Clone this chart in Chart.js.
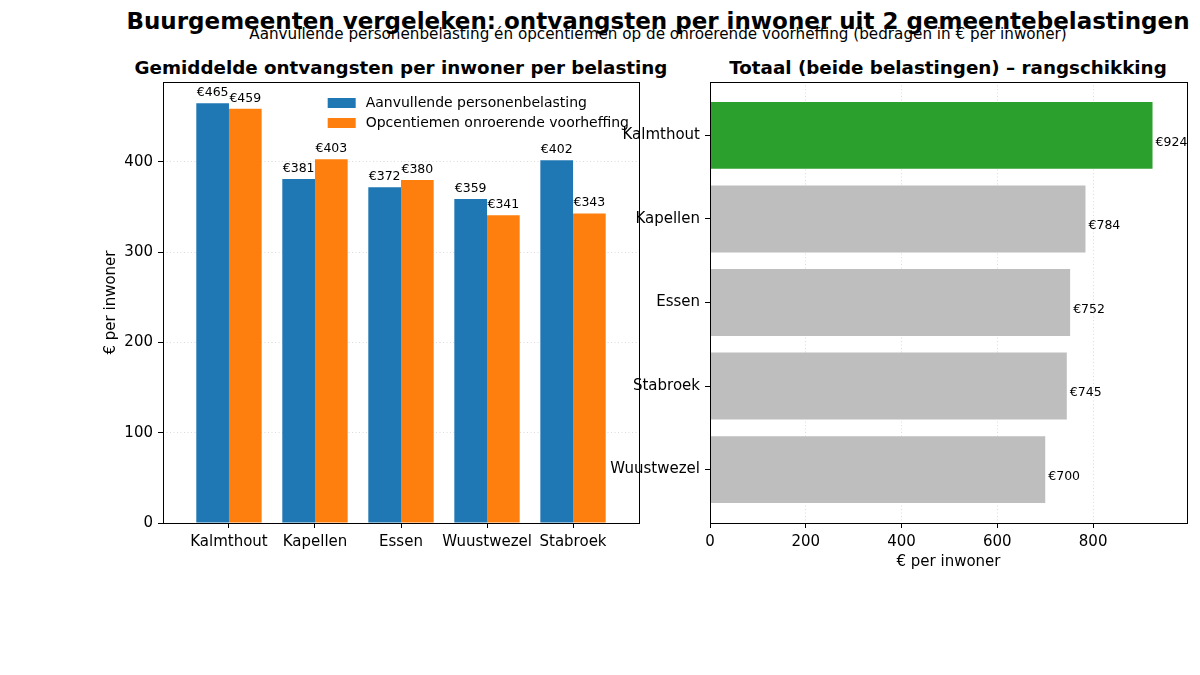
<!DOCTYPE html>
<html>
<head>
<meta charset="utf-8">
<script src="https://cdn.jsdelivr.net/npm/chart.js@4.4.0/dist/chart.umd.min.js"></script>
<style>
  body { margin: 0; background: #fff; font-family: "DejaVu Sans", sans-serif; }
  #wrap { position: relative; width: 1200px; height: 675px; overflow: hidden; background: #fff; }
  .txt { position: absolute; white-space: nowrap; transform: translateX(-50%); line-height: 1; color: #000; }
  canvas { position: absolute; }
</style>
</head>
<body>
<div id="wrap">
  <div class="txt" style="left:658px;top:10px;font-size:23px;font-weight:bold;">Buurgemeenten vergeleken: ontvangsten per inwoner uit 2 gemeentebelastingen</div>
  <div class="txt" style="left:658px;top:27px;font-size:15.2px;">Aanvullende personenbelasting én opcentiemen op de onroerende voorheffing (bedragen in € per inwoner)</div>
  <div class="txt" style="left:401px;top:59px;font-size:18.3px;font-weight:bold;">Gemiddelde ontvangsten per inwoner per belasting</div>
  <div class="txt" style="left:948px;top:59px;font-size:18.3px;font-weight:bold;">Totaal (beide belastingen) – rangschikking</div>
  <canvas id="leftChart" width="650" height="520" style="left:0;top:60px;"></canvas>
  <canvas id="rightChart" width="610" height="520" style="left:590px;top:60px;"></canvas>
</div>
<script>
// data
const municipalities = ['Kalmthout', 'Kapellen', 'Essen', 'Wuustwezel', 'Stabroek']
const personenbelasting = [465, 381, 372, 359, 402]
const opcentiemen = [459, 403, 380, 341, 343]

const rankedNames = ['Kalmthout', 'Kapellen', 'Essen', 'Stabroek', 'Wuustwezel']
const rankedTotals = [924, 784, 752, 745, 700]

const seriesLabels = ['Aanvullende personenbelasting', 'Opcentiemen onroerende voorheffing']
const leftYTicks = [0, 100, 200, 300, 400]
const rightXTicks = [0, 200, 400, 600, 800]

Chart.defaults.font.family = 'DejaVu Sans'
Chart.defaults.color = '#000'

const frame = {
  id: 'frame',
  afterDraw(chart) {
    const { ctx, chartArea: a } = chart
    ctx.save()
    ctx.strokeStyle = '#000'
    ctx.lineWidth = 1
    ctx.strokeRect(Math.round(a.left) + 0.5, Math.round(a.top) + 0.5, Math.round(a.right - a.left), Math.round(a.bottom - a.top))
    ctx.restore()
  }
}

const columnLabels = {
  id: 'columnLabels',
  afterDatasetsDraw(chart) {
    const ctx = chart.ctx
    ctx.save()
    ctx.font = '12.5px "DejaVu Sans"'
    ctx.fillStyle = '#000'
    ctx.textAlign = 'center'
    ctx.textBaseline = 'alphabetic'
    chart.data.datasets.forEach((ds, di) => {
      chart.getDatasetMeta(di).data.forEach((bar, i) => {
        ctx.fillText('€' + ds.data[i].y, bar.x, bar.y - 7)
      })
    })
    ctx.restore()
  }
}

const insideLegend = {
  id: 'insideLegend',
  afterDatasetsDraw(chart) {
    const { ctx, chartArea: a } = chart
    ctx.save()
    ctx.font = '14px "DejaVu Sans"'
    const widest = Math.max(...chart.data.datasets.map(ds => ctx.measureText(ds.label).width))
    const textX = a.right - 10 - widest
    chart.data.datasets.forEach((ds, i) => {
      const cy = a.top + 21 + i * 20
      ctx.fillStyle = ds.backgroundColor
      ctx.fillRect(textX - 38, cy - 5, 28, 10)
      ctx.fillStyle = '#000'
      ctx.textAlign = 'left'
      ctx.textBaseline = 'middle'
      ctx.fillText(ds.label, textX, cy)
    })
    ctx.restore()
  }
}

const totalLabels = {
  id: 'totalLabels',
  afterDatasetsDraw(chart) {
    const ctx = chart.ctx
    ctx.save()
    ctx.font = '12.5px "DejaVu Sans"'
    ctx.fillStyle = '#000'
    ctx.textAlign = 'left'
    ctx.textBaseline = 'middle'
    chart.getDatasetMeta(0).data.forEach((bar, i) => {
      ctx.fillText('€' + rankedTotals[i], bar.x + 3, bar.y + 7)
    })
    ctx.restore()
  }
}

const dotted = { color: '#d0d0d0', lineWidth: 0.8 }

new Chart(document.getElementById('leftChart'), {
  type: 'bar',
  data: {
    datasets: [
      {
        label: seriesLabels[0],
        data: municipalities.map((m, i) => ({ x: i, y: personenbelasting[i] })),
        backgroundColor: '#1f77b4',
        borderWidth: 0
      },
      {
        label: seriesLabels[1],
        data: municipalities.map((m, i) => ({ x: i, y: opcentiemen[i] })),
        backgroundColor: '#ff7f0e',
        borderWidth: 0
      }
    ]
  },
  options: {
    responsive: false,
    animation: false,
    categoryPercentage: 0.76,
    barPercentage: 1,
    layout: { padding: { left: 98, top: 22, right: 11, bottom: 0 } },
    plugins: { legend: { display: false }, tooltip: { enabled: false } },
    scales: {
      x: {
        type: 'linear',
        offset: false,
        min: -0.767,
        max: 4.767,
        afterFit: s => { s.height = 57 },
        afterBuildTicks: s => { s.ticks = municipalities.map((m, i) => ({ value: i })) },
        ticks: {
          font: { size: 15 },
          padding: 5,
          autoSkip: false,
          maxRotation: 0,
          minRotation: 0,
          callback: v => municipalities[v]
        },
        grid: { offset: false, drawOnChartArea: false, tickLength: 5, tickColor: '#000', tickWidth: 1 },
        border: { display: false }
      },
      y: {
        min: 0,
        max: 488.6,
        afterFit: s => { s.width = 65 },
        afterBuildTicks: s => { s.ticks = leftYTicks.map(v => ({ value: v })) },
        ticks: { font: { size: 15 }, padding: 5 },
        grid: { ...dotted, tickLength: 5, tickColor: '#000', tickWidth: 1 },
        border: { display: false, dash: [1, 2.5] },
        title: { display: true, text: '€ per inwoner', font: { size: 15 }, padding: { top: 4, bottom: 4 } }
      }
    }
  },
  plugins: [columnLabels, insideLegend, frame]
})

new Chart(document.getElementById('rightChart'), {
  type: 'bar',
  data: {
    datasets: [{
      label: 'Totaal',
      data: rankedNames.map((m, i) => ({ y: i, x: rankedTotals[i] })),
      backgroundColor: rankedNames.map((m, i) => i === 0 ? '#2ca02c' : '#bebebe'),
      borderWidth: 0
    }]
  },
  options: {
    indexAxis: 'y',
    responsive: false,
    animation: false,
    categoryPercentage: 0.8,
    barPercentage: 1,
    layout: { padding: { left: 0, top: 22, right: 13, bottom: 0 } },
    plugins: { legend: { display: false }, tooltip: { enabled: false } },
    scales: {
      y: {
        type: 'linear',
        offset: false,
        reverse: true,
        min: -0.64,
        max: 4.64,
        afterFit: s => { s.width = 120 },
        afterBuildTicks: s => { s.ticks = rankedNames.map((m, i) => ({ value: i })) },
        ticks: { font: { size: 15 }, padding: 5, autoSkip: false, callback: v => rankedNames[v] },
        grid: { offset: false, drawOnChartArea: false, tickLength: 5, tickColor: '#000', tickWidth: 1 },
        border: { display: false }
      },
      x: {
        type: 'linear',
        min: 0,
        max: 996,
        afterFit: s => { s.height = 57 },
        afterBuildTicks: s => { s.ticks = rightXTicks.map(v => ({ value: v })) },
        ticks: { font: { size: 15 }, padding: 5, maxRotation: 0 },
        grid: { ...dotted, tickLength: 5, tickColor: '#000', tickWidth: 1 },
        border: { display: false, dash: [1, 2.5] },
        title: { display: true, text: '€ per inwoner', font: { size: 15 }, padding: { top: 4, bottom: 9 } }
      }
    }
  },
  plugins: [totalLabels, frame]
})
</script>
</body>
</html>
